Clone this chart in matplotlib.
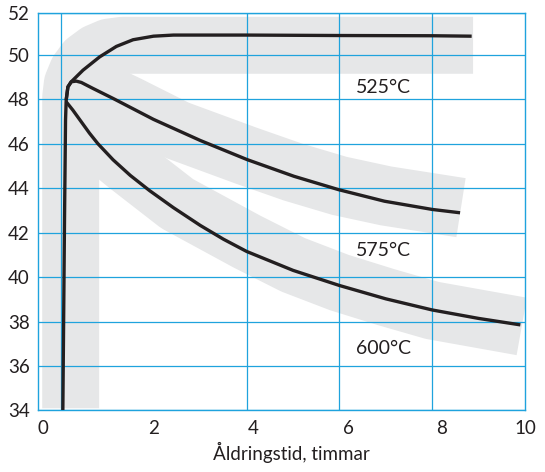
import matplotlib
matplotlib.use("Agg")
import matplotlib.pyplot as plt

plt.rcParams["font.family"] = ["Lato", "DejaVu Sans"]

# --- black curves (aging time in hours vs hardness) ---
x525 = [0.036, 0.072, 0.094, 0.108, 0.145, 0.217, 0.47, 0.83, 1.19, 1.55, 1.99, 2.42,
        4.01, 5.98, 8.0, 8.85]
y525 = [34.0, 42.59, 47.06, 47.96, 48.55, 48.78, 49.30, 49.90, 50.37, 50.67, 50.83, 50.88,
        50.88, 50.86, 50.85, 50.83]

x575 = [0.108, 0.145, 0.217, 0.325, 0.434, 0.686, 1.12, 1.99, 3.0, 4.01, 5.02, 5.98,
        6.97, 8.0, 8.6]
y575 = [47.96, 48.55, 48.78, 48.81, 48.75, 48.48, 48.03, 47.09, 46.14, 45.28, 44.53, 43.93,
        43.41, 43.04, 42.89]

x600 = [0.108, 0.25, 0.61, 0.79, 1.12, 1.49, 1.91, 2.42, 3.0, 3.5, 4.0, 5.0, 6.0, 7.0,
        8.0, 9.0, 9.9]
y600 = [47.88, 47.51, 46.47, 46.0, 45.27, 44.57, 43.88, 43.12, 42.32, 41.7, 41.15, 40.3,
        39.62, 39.02, 38.52, 38.14, 37.85]

# --- grey scatter bands behind the curves ---
band525_x = [0.205, 0.205, 0.24, 0.35, 0.52, 0.76, 1.03, 1.32, 8.88]
band525_y = [34.1, 48.08, 48.69, 49.25, 49.73, 50.10, 50.34, 50.42, 50.42]

band575_x = [0.3, 0.8, 1.45, 2.5, 4.0, 5.0, 6.0, 7.0, 8.62]
band575_y = [48.75, 48.35, 47.7, 46.6, 45.45, 44.72, 44.1, 43.65, 43.12]

band600_x = [0.25, 0.8, 1.45, 2.5, 4.0, 5.0, 6.0, 7.0, 8.0, 9.93]
band600_y = [47.3, 46.1, 45.0, 43.3, 41.6, 40.55, 39.75, 39.1, 38.5, 37.78]

labels = ["525°C", "575°C", "600°C"]
label_x = [6.94, 6.94, 6.94]
label_y = [48.54, 41.2, 36.8]

xtick_pos = [-0.4, 2.0, 4.15, 6.2, 8.2, 10.0]
xtick_lab = ["0", "2", "4", "6", "8", "10"]
ytick_pos = [34, 36, 38, 40, 42, 44, 46, 48, 50, 51.85]
ytick_lab = ["34", "36", "38", "40", "42", "44", "46", "48", "50", "52"]

BLUE = "#1fa3dd"
GREY = "#e6e7e8"
INK = "#231f20"

fig = plt.figure(figsize=(5.45, 4.72), dpi=100)
ax = fig.add_axes([0.0697, 0.1303, 0.8936, 0.8411])

band_kw = dict(color=GREY, solid_capstyle="butt", solid_joinstyle="round", zorder=1)
ax.plot(band525_x, band525_y, lw=41, **band_kw)
ax.plot(band575_x, band575_y, lw=43, **band_kw)
ax.plot(band600_x, band600_y, lw=42, **band_kw)

curve_kw = dict(color=INK, lw=2.4, solid_capstyle="butt", solid_joinstyle="round", zorder=3)
ax.plot(x525, y525, **curve_kw)
ax.plot(x575, y575, **curve_kw)
ax.plot(x600, y600, **curve_kw)

for txt, tx, ty in zip(labels, label_x, label_y):
    ax.text(tx, ty, txt, fontsize=14, color=INK, ha="center", va="center", zorder=4)

ax.set_xlim(-0.5, 10)
ax.set_ylim(34, 51.85)

# gridlines on minor ticks, labels on major ticks
ax.set_xticks(range(0, 11, 2), minor=True)
ax.set_xticks(xtick_pos, xtick_lab)
ax.set_yticks(ytick_pos, ytick_lab)
ax.tick_params(axis="both", which="both", length=0, labelsize=13.5, colors=INK)
ax.tick_params(axis="x", pad=7)
ax.tick_params(axis="y", pad=6)
ax.set_axisbelow("line")
ax.grid(True, which="minor", axis="x", color=BLUE, lw=0.9)
ax.grid(True, which="major", axis="y", color=BLUE, lw=0.9)
ax.grid(False, which="major", axis="x")

for sp in ax.spines.values():
    sp.set_color(BLUE)
    sp.set_linewidth(1.0)

ax.set_xlabel("Åldringstid, timmar", fontsize=13.5, color=INK)
ax.xaxis.set_label_coords(0.52, -0.08)

fig.savefig("out.png", dpi=100)
